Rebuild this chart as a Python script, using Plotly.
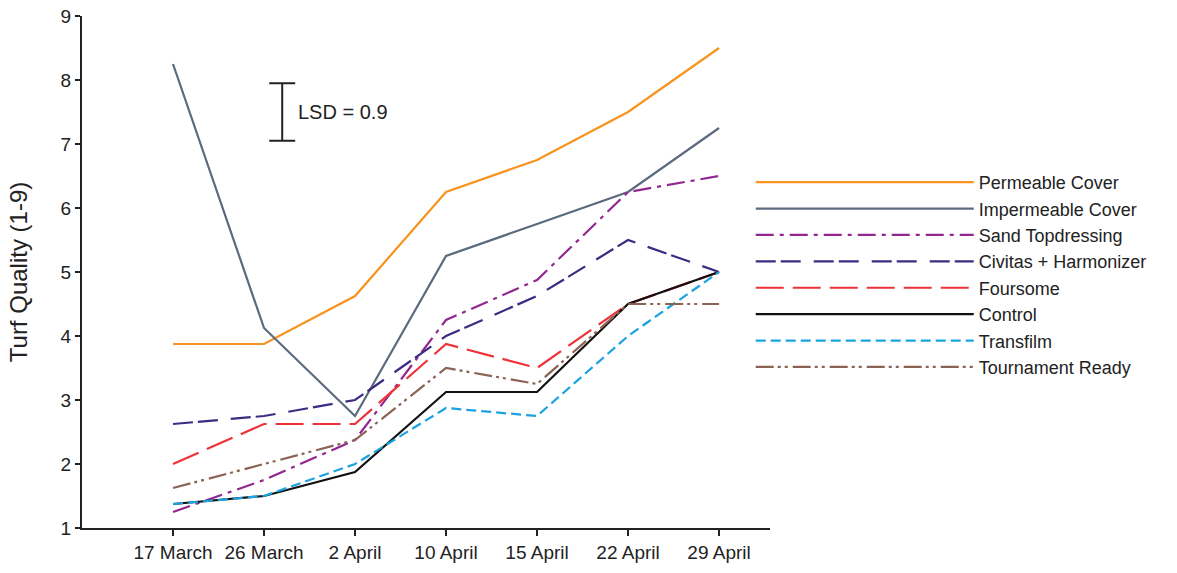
import plotly.graph_objects as go

# Sampling dates (category axis)
dates = ["17 March", "26 March", "2 April", "10 April", "15 April", "22 April", "29 April"]

# Turf quality ratings (1-9) per treatment
permeable_cover = [3.875, 3.875, 4.625, 6.25, 6.75, 7.5, 8.5]
impermeable_cover = [8.25, 4.125, 2.75, 5.25, 5.75, 6.25, 7.25]
sand_topdressing = [1.25, 1.75, 2.375, 4.25, 4.875, 6.25, 6.5]
civitas_harmonizer = [2.625, 2.75, 3.0, 4.0, 4.625, 5.5, 5.0]
foursome = [2.0, 2.625, 2.625, 3.875, 3.5, 4.5, 5.0]
control = [1.375, 1.5, 1.875, 3.125, 3.125, 4.5, 5.0]
transfilm = [1.375, 1.5, 2.0, 2.875, 2.75, 4.0, 5.0]
tournament_ready = [1.625, 2.0, 2.375, 3.5, 3.25, 4.5, 4.5]

# Least significant difference
lsd = 0.9

series = [
    ("Permeable Cover", permeable_cover, "#F7931E", "solid"),
    ("Impermeable Cover", impermeable_cover, "#5B6A7F", "solid"),
    ("Sand Topdressing", sand_topdressing, "#92278F", "18px,6px,4px,6px"),
    ("Civitas + Harmonizer", civitas_harmonizer, "#3D2B83", "20px,5px,20px,13px"),
    ("Foursome", foursome, "#EE3238", "28px,9px"),
    ("Control", control, "#111111", "solid"),
    ("Transfilm", transfilm, "#1BA3E0", "10px,5px"),
    ("Tournament Ready", tournament_ready, "#8B6355", "18px,4px,3px,4px,3px,5px"),
]

x_idx = list(range(len(dates)))

fig = go.Figure()
for name, vals, color, dash in series:
    fig.add_trace(go.Scatter(
        x=x_idx, y=vals, name=name, mode="lines",
        line=dict(color=color, width=2.2, dash=dash),
    ))

# LSD bar
lsd_x = 1.2
lsd_center = 7.5
fig.add_trace(go.Scatter(
    x=[lsd_x], y=[lsd_center], mode="markers", showlegend=False,
    marker=dict(size=0.1, color="#222222"),
    error_y=dict(type="constant", value=lsd / 2, color="#222222",
                 thickness=2, width=13),
    hoverinfo="skip",
))
fig.add_annotation(
    x=lsd_x, y=lsd_center, text=f"LSD = {lsd}", showarrow=False,
    xanchor="left", yanchor="middle", xshift=14,
    font=dict(family="Liberation Sans, Arial", size=20, color="#222222"),
)

fig.update_layout(
    width=1177, height=573,
    margin=dict(l=82, r=407, t=16, b=45),
    plot_bgcolor="white", paper_bgcolor="white",
    font=dict(family="Liberation Sans, Arial", color="#222222"),
    showlegend=True,
    legend=dict(
        x=0.972, y=0.711, xanchor="left", yanchor="top",
        itemwidth=218, font=dict(size=18, color="#222222"),
        bgcolor="rgba(0,0,0,0)", tracegroupgap=0,
    ),
    xaxis=dict(
        range=[-1, 6.56], tickmode="array", tickvals=x_idx, ticktext=dates,
        showgrid=False, zeroline=False, automargin=False,
        showline=True, linecolor="#222222", linewidth=2,
        ticks="outside", ticklen=6, tickwidth=1.5, tickcolor="#222222",
        tickfont=dict(size=19),
    ),
    yaxis=dict(
        range=[1, 9], tickmode="array", tickvals=list(range(1, 10)),
        showgrid=False, zeroline=False, automargin=False,
        showline=True, linecolor="#222222", linewidth=2,
        ticks="outside", ticklen=5, tickwidth=1.5, tickcolor="#222222",
        tickfont=dict(size=19),
        title=dict(text="Turf Quality (1-9)", font=dict(size=24), standoff=26),
    ),
)

fig.write_html("out.html")
